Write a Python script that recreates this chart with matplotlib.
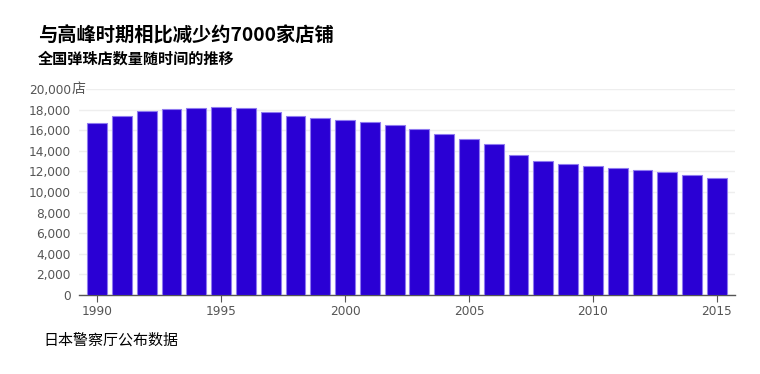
import matplotlib
matplotlib.use("Agg")
import matplotlib.pyplot as plt
from matplotlib.ticker import FuncFormatter

years = list(range(1990, 2016))
stores = [16700, 17390, 17840, 18050, 18130, 18290, 18130, 17780, 17420, 17160,
          17000, 16840, 16550, 16100, 15640, 15190, 14670, 13600, 13020, 12700,
          12540, 12340, 12150, 11920, 11690, 11340]
x_ticks = [1990, 1995, 2000, 2005, 2010, 2015]
y_ticks = list(range(0, 20001, 2000))

title = "与高峰时期相比减少约7000家店铺"
subtitle = "全国弹珠店数量随时间的推移"
source = "日本警察厅公布数据"
unit = "店"

CJK = ['Noto Sans CJK SC', 'DejaVu Sans']
NUM = ['DejaVu Sans', 'Noto Sans CJK SC']

fig = plt.figure(figsize=(7.6, 3.74), dpi=100)
W, H = 760, 374
l, r, b, t = 79, 735, 295, 89
ax = fig.add_axes([l / W, 1 - b / H, (r - l) / W, (b - t) / H])

ax.bar(years, stores, width=0.8, color='#2a00d4', edgecolor='#8f7af0', linewidth=0.8, zorder=3)

ax.set_xlim(1989.27, 2015.73)
ax.set_ylim(0, 20000)
ax.set_xticks(x_ticks)
ax.set_yticks(y_ticks)

ax.yaxis.set_major_formatter(FuncFormatter(lambda v, pos: f"{int(v):,}"))
ax.grid(axis='y', color='#eeeeee', linewidth=1, zorder=0)
for s in ['top', 'right', 'left']:
    ax.spines[s].set_visible(False)
ax.spines['bottom'].set_color('#555555')
ax.spines['bottom'].set_linewidth(1)
ax.tick_params(axis='y', length=0, pad=6, labelcolor='#555555')
ax.tick_params(axis='x', length=5, color='#555555', labelcolor='#555555', pad=2)
for lab in ax.get_xticklabels() + ax.get_yticklabels():
    lab.set_family(NUM)
    lab.set_fontsize(8.7)

# unit suffix after the top y label
fig.text(72 / W, 1 - t / H, unit, family=CJK, fontsize=10, color='#555555',
         va='center', ha='left',
         bbox=dict(facecolor='white', edgecolor='none', pad=0.3))

fig.text(38 / W, 1 - 36 / H, title, family=CJK, fontsize=13.85, fontweight='bold', va='center', ha='left', color='#000000')
fig.text(38 / W, 1 - 59 / H, subtitle, family=CJK, fontsize=10.9, fontweight='bold', va='center', ha='left', color='#000000')
fig.text(43 / W, 1 - 340 / H, source, family=CJK, fontsize=10.8, va='center', ha='left', color='#000000')

fig.savefig('out.png', dpi=100)
